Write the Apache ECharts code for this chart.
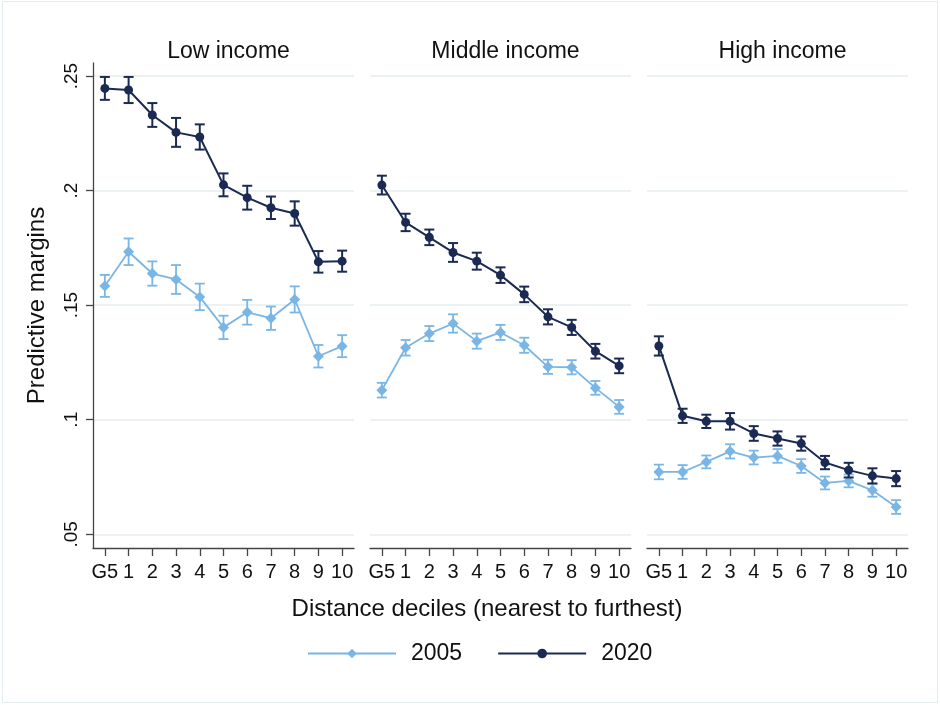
<!DOCTYPE html>
<html>
<head>
<meta charset="utf-8">
<script src="https://cdn.jsdelivr.net/npm/echarts@6/dist/echarts.min.js"></script>
<style>html,body{margin:0;padding:0;background:#fff;}#c{width:940px;height:705px;}</style>
</head>
<body>
<div id="c"></div>
<script>
const categories = ['G5','1','2','3','4','5','6','7','8','9','10'];
const panelTitles = ['Low income','Middle income','High income'];
const yTicks = [0.05, 0.1, 0.15, 0.2, 0.25];

const low2005   = [0.1584,0.1733,0.1638,0.1612,0.1536,0.1403,0.1469,0.1443,0.1525,0.1277,0.1321];
const low2005ci = [0.0048,0.0058,0.0053,0.0063,0.0058,0.0051,0.0054,0.0051,0.0057,0.0049,0.0048];
const low2020   = [0.2446,0.2439,0.2330,0.2254,0.2234,0.2025,0.1969,0.1925,0.1900,0.1689,0.1692];
const low2020ci = [0.0050,0.0057,0.0052,0.0063,0.0055,0.0050,0.0052,0.0049,0.0053,0.0047,0.0046];

const mid2005   = [0.1129,0.1314,0.1376,0.1420,0.1343,0.1381,0.1325,0.1231,0.1229,0.1139,0.1056];
const mid2005ci = [0.0032,0.0034,0.0033,0.0040,0.0033,0.0033,0.0033,0.0031,0.0031,0.0030,0.0030];
const mid2020   = [0.2024,0.1861,0.1796,0.1730,0.1692,0.1631,0.1547,0.1449,0.1403,0.1299,0.1235];
const mid2020ci = [0.0041,0.0038,0.0034,0.0041,0.0037,0.0034,0.0034,0.0033,0.0033,0.0032,0.0032];

const high2005   = [0.0772,0.0772,0.0816,0.0862,0.0835,0.0842,0.0798,0.0724,0.0733,0.0692,0.0619];
const high2005ci = [0.0032,0.0030,0.0028,0.0031,0.0030,0.0030,0.0030,0.0028,0.0028,0.0028,0.0030];
const high2020   = [0.1322,0.1017,0.0993,0.0993,0.0940,0.0918,0.0896,0.0813,0.0780,0.0755,0.0743];
const high2020ci = [0.0042,0.0031,0.0029,0.0036,0.0032,0.0031,0.0031,0.0029,0.0032,0.0033,0.0033];

const C2005 = '#79b6e5';
const C2020 = '#1b2a52';
const FONT = '"Liberation Sans", Arial, sans-serif';

const panels = [
  {s2005: low2005, c2005: low2005ci, s2020: low2020, c2020: low2020ci},
  {s2005: mid2005, c2005: mid2005ci, s2020: mid2020, c2020: mid2020ci},
  {s2005: high2005, c2005: high2005ci, s2020: high2020, c2020: high2020ci}
];
const lefts = [93, 370, 647];
const gridW = 261, gridTop = 63, gridH = 485;
const yMin = 0.04402, yMax = 0.25568;

function errBars(vals, ci) {
  return vals.map((v, i) => [i, v - ci[i], v + ci[i]]);
}
function errSeries(idx, vals, ci, color, lw) {
  return {
    type: 'custom', xAxisIndex: idx, yAxisIndex: idx, silent: true,
    z: color === C2020 ? 4 : 2,
    data: errBars(vals, ci),
    encode: {x: 0, y: [1, 2]},
    renderItem: function (params, api) {
      const x = api.value(0);
      const lo = api.coord([x, api.value(1)]);
      const hi = api.coord([x, api.value(2)]);
      const w = 5;
      const st = {stroke: color, lineWidth: lw};
      return {type: 'group', children: [
        {type: 'line', shape: {x1: lo[0], y1: lo[1], x2: hi[0], y2: hi[1]}, style: st},
        {type: 'line', shape: {x1: lo[0] - w, y1: lo[1], x2: lo[0] + w, y2: lo[1]}, style: st},
        {type: 'line', shape: {x1: hi[0] - w, y1: hi[1], x2: hi[0] + w, y2: hi[1]}, style: st}
      ]};
    }
  };
}

const grid = [], xAxis = [], yAxis = [], series = [], title = [];
panels.forEach((p, k) => {
  grid.push({left: lefts[k], top: gridTop, width: gridW, height: gridH});
  title.push({text: panelTitles[k], left: lefts[k] + gridW / 2, top: 35, textAlign: 'center',
    textStyle: {fontFamily: FONT, fontSize: 23, fontWeight: 'normal', color: '#111'}});
  xAxis.push({
    type: 'category', gridIndex: k, data: categories, boundaryGap: true,
    axisLine: {show: true, lineStyle: {color: '#444', width: 1.3}},
    axisTick: {show: true, alignWithLabel: true, length: 8, lineStyle: {color: '#444', width: 1.3}},
    axisLabel: {show: true, interval: 0, margin: 14, fontFamily: FONT, fontSize: 20, color: '#111'},
    splitLine: {show: false}
  });
  yAxis.push({
    type: 'value', gridIndex: k, min: yMin, max: yMax,
    name: k === 0 ? 'Predictive margins' : '',
    nameLocation: 'middle', nameGap: 44,
    nameTextStyle: {fontFamily: FONT, fontSize: 24, color: '#111'},
    axisLine: {show: k === 0, lineStyle: {color: '#444', width: 1.3}},
    axisTick: {show: k === 0, length: 7, customValues: yTicks, lineStyle: {color: '#444', width: 1.3}},
    axisLabel: {show: k === 0, customValues: yTicks, rotate: 90, margin: 12, fontFamily: FONT, fontSize: 19, color: '#111',
      formatter: v => String(+v.toFixed(2)).replace(/^0/, '')},
    splitLine: {show: true, lineStyle: {color: '#e6eef1', width: 1.5}}
  });
  series.push(errSeries(k, p.s2005, p.c2005, C2005, 1.8));
  series.push({
    name: '2005', type: 'line', xAxisIndex: k, yAxisIndex: k, data: p.s2005,
    symbol: 'diamond', symbolSize: 11, showSymbol: true, z: 3,
    lineStyle: {color: C2005, width: 1.8}, itemStyle: {color: C2005}
  });
  series.push(errSeries(k, p.s2020, p.c2020, C2020, 2));
  series.push({
    name: '2020', type: 'line', xAxisIndex: k, yAxisIndex: k, data: p.s2020,
    symbol: 'circle', symbolSize: 9, showSymbol: true, z: 5,
    lineStyle: {color: C2020, width: 2}, itemStyle: {color: C2020}
  });
});

title.push({text: 'Distance deciles (nearest to furthest)', left: 482, top: 592, textAlign: 'center',
  textStyle: {fontFamily: FONT, fontSize: 24, fontWeight: 'normal', color: '#111'}});

const chart = echarts.init(document.getElementById('c'), null, {renderer: 'canvas'});
chart.setOption({
  backgroundColor: '#fff',
  animation: false,
  title: title,
  grid: grid, xAxis: xAxis, yAxis: yAxis, series: series,
  legend: {
    data: ['2005', '2020'], left: 302, top: 637, itemWidth: 88, itemHeight: 12, itemGap: 35,
    textStyle: {fontFamily: FONT, fontSize: 23, color: '#111', padding: [0, 0, 0, 10]}
  },
  graphic: [{type: 'rect', shape: {x: 2.5, y: 1.5, width: 935, height: 701}, style: {fill: 'none', stroke: '#e2ecef', lineWidth: 1}, silent: true}]
});
</script>
</body>
</html>
